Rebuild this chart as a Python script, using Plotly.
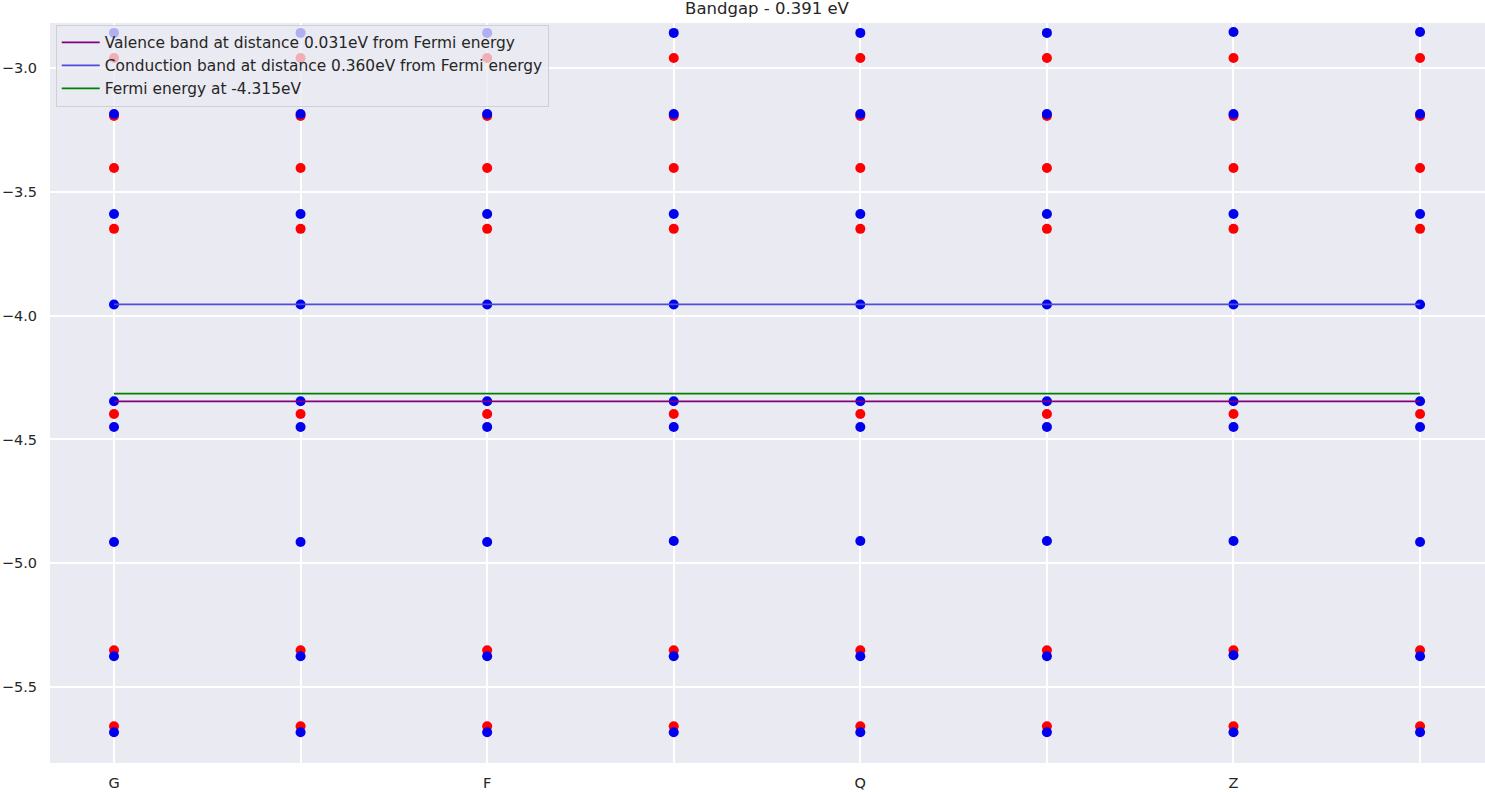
import plotly.graph_objects as go

kpoints = [0, 1, 2, 3, 4, 5, 6, 7]
tick_labels = ["G", "", "F", "", "Q", "", "Z", ""]

# spin-up (red) band energies per k-point
red_bands = [
    [-2.960, -2.960, -2.960, -2.960, -2.960, -2.960, -2.960, -2.960],
    [-3.194, -3.194, -3.194, -3.194, -3.194, -3.194, -3.194, -3.194],
    [-3.404, -3.404, -3.404, -3.404, -3.404, -3.404, -3.404, -3.404],
    [-3.650, -3.650, -3.650, -3.650, -3.650, -3.650, -3.650, -3.650],
    [-4.397, -4.397, -4.397, -4.397, -4.397, -4.397, -4.397, -4.397],
    [-5.351, -5.351, -5.351, -5.351, -5.351, -5.351, -5.351, -5.351],
    [-5.658, -5.658, -5.658, -5.658, -5.658, -5.658, -5.658, -5.658],
]
# spin-down (blue) band energies per k-point
blue_bands = [
    [-2.859, -2.859, -2.859, -2.859, -2.859, -2.859, -2.855, -2.855],
    [-3.186, -3.186, -3.186, -3.186, -3.186, -3.186, -3.186, -3.186],
    [-3.590, -3.590, -3.590, -3.590, -3.590, -3.590, -3.590, -3.590],
    [-3.955, -3.955, -3.955, -3.955, -3.955, -3.955, -3.955, -3.955],
    [-4.346, -4.346, -4.346, -4.346, -4.346, -4.346, -4.346, -4.346],
    [-4.450, -4.450, -4.450, -4.450, -4.450, -4.450, -4.450, -4.450],
    [-4.914, -4.914, -4.914, -4.910, -4.910, -4.910, -4.910, -4.914],
    [-5.375, -5.375, -5.375, -5.375, -5.375, -5.375, -5.371, -5.375],
    [-5.682, -5.682, -5.682, -5.682, -5.682, -5.682, -5.682, -5.682],
]

valence_band = -4.346
conduction_band = -3.955
fermi_energy = -4.315
title_text = "Bandgap - 0.391 eV"

y_tick_vals = [-3.0, -3.5, -4.0, -4.5, -5.0, -5.5]
y_tick_text = ["\u22123.0", "\u22123.5", "\u22124.0", "\u22124.5", "\u22125.0", "\u22125.5"]

fig = go.Figure()

for band in red_bands:
    fig.add_trace(go.Scatter(x=kpoints, y=band, mode="markers",
                             marker=dict(color="#ff0000", size=10),
                             showlegend=False, hoverinfo="skip"))
for band in blue_bands:
    fig.add_trace(go.Scatter(x=kpoints, y=band, mode="markers",
                             marker=dict(color="#0000ee", size=10),
                             showlegend=False, hoverinfo="skip"))

x_ends = [kpoints[0], kpoints[-1]]
fig.add_trace(go.Scatter(x=x_ends, y=[valence_band] * 2, mode="lines",
                         line=dict(color="#800080", width=1.8),
                         name="Valence band at distance %.3feV from Fermi energy" % (fermi_energy - valence_band)))
fig.add_trace(go.Scatter(x=x_ends, y=[conduction_band] * 2, mode="lines",
                         line=dict(color="#4d4ddb", width=1.8),
                         name="Conduction band at distance %.3feV from Fermi energy" % (conduction_band - fermi_energy)))
fig.add_trace(go.Scatter(x=x_ends, y=[fermi_energy] * 2, mode="lines",
                         line=dict(color="#008000", width=1.8),
                         name="Fermi energy at %.3feV" % fermi_energy))

fig.update_layout(
    width=1485, height=792,
    margin=dict(l=50, r=0, t=23, b=29),
    paper_bgcolor="white",
    plot_bgcolor="#eaeaf2",
    font=dict(family="DejaVu Sans", size=14.5, color="#262626"),
    title=dict(text=title_text, x=0.5165, xanchor="center",
               yref="container", y=1 - 8.5 / 792, yanchor="middle",
               font=dict(size=16.5, color="#262626")),
    showlegend=True,
    legend=dict(x=0.004, y=0.9975, xanchor="left", yanchor="top",
                bgcolor="rgba(234,234,242,0.75)", bordercolor="#cfcfd6", borderwidth=1,
                font=dict(size=15.4, color="#262626"), tracegroupgap=0,
                itemwidth=38),
)
fig.update_xaxes(range=[-0.343, 7.348], tickmode="array", tickvals=kpoints, ticktext=tick_labels,
                 showgrid=True, gridcolor="white", gridwidth=1.5, zeroline=False,
                 ticks="", showline=False, ticklabelstandoff=9)
fig.update_yaxes(range=[-5.806, -2.819], tickmode="array",
                 tickvals=y_tick_vals, ticktext=y_tick_text,
                 showgrid=True, gridcolor="white", gridwidth=1.5, zeroline=False,
                 ticks="", showline=False, ticklabelstandoff=12)

fig.write_html("out.html")
